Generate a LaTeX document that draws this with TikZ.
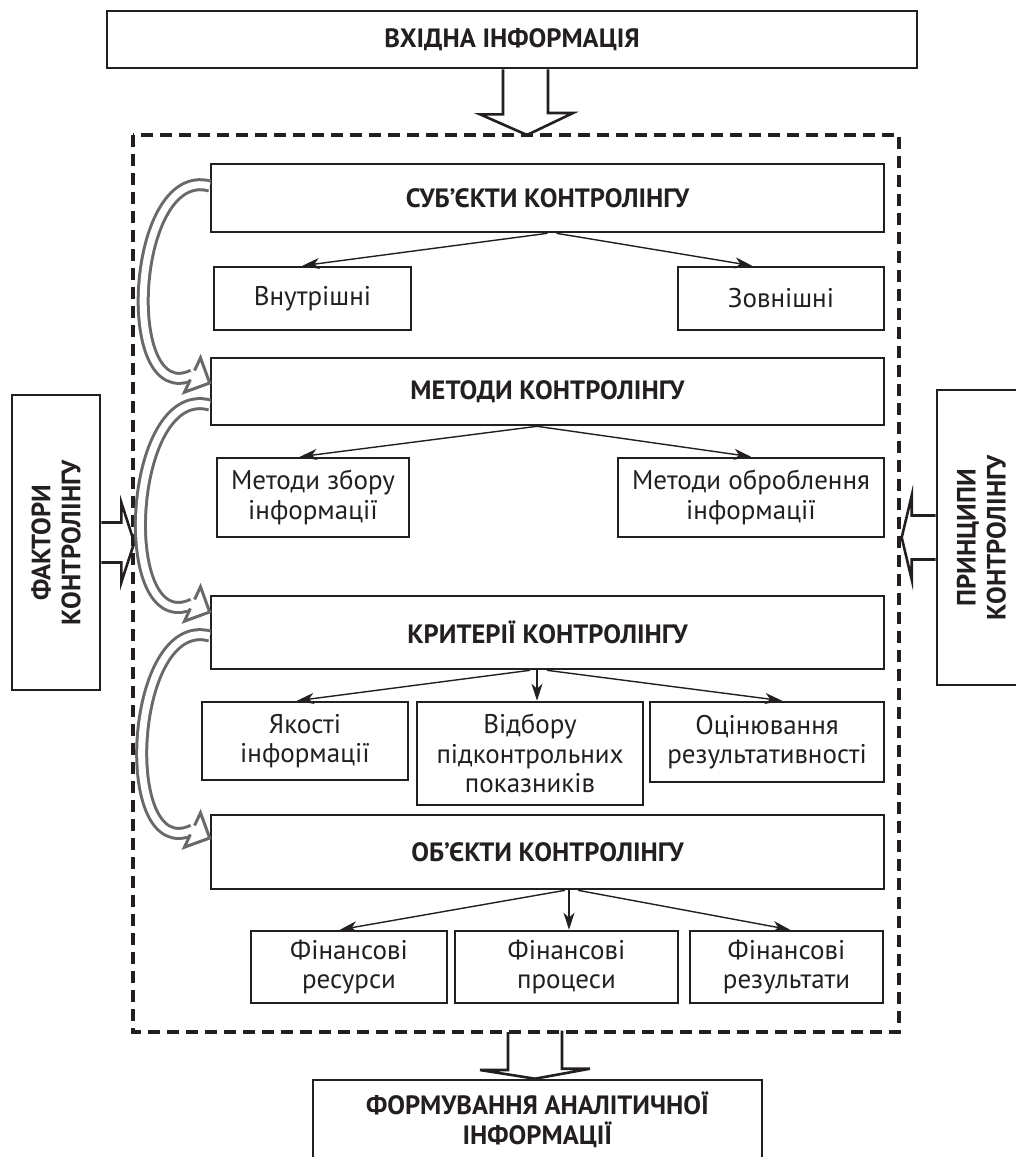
\documentclass[tikz,border=0pt]{standalone}
\usepackage{fontspec}
\setmainfont{PT Sans}
\usetikzlibrary{arrows.meta,calc}
\definecolor{ink}{RGB}{35,31,32}
\definecolor{curvgray}{RGB}{105,105,105}
\tikzset{
  box/.style={draw=ink, text=ink, line width=2.6pt, inner sep=2pt, align=center,
    font=\fontsize{27}{29.5}\selectfont},
  headbox/.style={box, font=\fontsize{26.5}{30}\selectfont\bfseries},
  conn/.style={draw=ink, line width=1.4pt, -{Stealth[length=17pt,width=11pt,inset=5pt]}},
  blk/.style={draw=ink, line width=2.6pt, line join=miter},
  curv/.style={draw=curvgray, double=white, double distance=7pt, line width=3pt},
  curvhead/.style={draw=curvgray, line width=3pt, line join=miter, preaction={fill=white}},
  dashframe/.style={draw=ink, line width=3.5pt, dash pattern=on 12pt off 7pt}
}
\begin{document}
\begin{tikzpicture}[x=1pt,y=-1pt]
\clip (0,0) rectangle (1016,1157);
\draw[dashframe] (133,135) rectangle (899,1032);
% main column
\node[headbox, minimum width=810, minimum height=57] (input) at (512,39.5) {ВХІДНА ІНФОРМАЦІЯ};
\node[headbox, minimum width=673, minimum height=68] (subj) at (547.5,198) {СУБ’ЄКТИ КОНТРОЛІНГУ};
\node[box, minimum width=197, minimum height=63] (inner) at (312.5,298.5) {Внутрішні};
\node[box, minimum width=206, minimum height=63] (outer) at (781,298.5) {Зовнішні};
\node[headbox, minimum width=673, minimum height=67] (methods) at (547.5,391.5) {МЕТОДИ КОНТРОЛІНГУ};
\node[box, minimum width=192, minimum height=79] (mcollect) at (313,497.5) {Методи збору\\інформації};
\node[box, minimum width=266, minimum height=79] (mprocess) at (751,497.5) {Методи оброблення\\інформації};
\node[headbox, minimum width=673, minimum height=73] (criteria) at (547.5,632.5) {КРИТЕРІЇ КОНТРОЛІНГУ};
\node[box, minimum width=206, minimum height=78] (quality) at (305,741) {Якості\\інформації};
\node[box, minimum width=226, minimum height=103] (selection) at (530,753.5) {Відбору\\підконтрольних\\показників};
\node[box, minimum width=234, minimum height=80] (evaluation) at (767,742) {Оцінювання\\результативності};
\node[headbox, minimum width=673, minimum height=74] (objects) at (547.5,852) {ОБ’ЄКТИ КОНТРОЛІНГУ};
\node[box, minimum width=196, minimum height=72] (fres) at (349,967) {Фінансові\\ресурси};
\node[box, minimum width=223, minimum height=72] (fproc) at (566.5,967) {Фінансові\\процеси};
\node[box, minimum width=193, minimum height=72] (fresult) at (786.5,967) {Фінансові\\результати};
\node[headbox, minimum width=449, minimum height=80] (output) at (537.5,1120) {ФОРМУВАННЯ АНАЛІТИЧНОЇ\\ІНФОРМАЦІЇ};
% side boxes
\node[headbox, rotate=90, minimum width=295, minimum height=88] (factors) at (56,542.5) {ФАКТОРИ\\КОНТРОЛІНГУ};
\node[headbox, rotate=90, minimum width=295, minimum height=89] (principles) at (981.5,537.5) {ПРИНЦИПИ\\КОНТРОЛІНГУ};
% thin connectors
\draw[conn] (subj.south) -- ([xshift=-10pt]inner.north);
\draw[conn] ([xshift=9pt]subj.south) -- ([xshift=-29pt]outer.north);
\draw[conn] ([xshift=-10.5pt]methods.south) -- ([xshift=-13pt]mcollect.north);
\draw[conn] ([xshift=-10.5pt]methods.south) -- (mprocess.north);
\draw[conn] ([xshift=-17.5pt]criteria.south) -- ([xshift=-8pt]quality.north);
\draw[conn] ([xshift=-10.5pt]criteria.south) -- ([xshift=7pt]selection.north);
\draw[conn] ([xshift=-0.5pt]criteria.south) -- ([xshift=15pt]evaluation.north);
\draw[conn] ([xshift=17.5pt]objects.south) -- ([xshift=-9pt]fres.north);
\draw[conn] ([xshift=21.5pt]objects.south) -- ([xshift=2.5pt]fproc.north);
\draw[conn] ([xshift=30.5pt]objects.south) -- ([xshift=3.5pt]fresult.north);
% block arrows
\coordinate (intip) at (527,135);
\coordinate (outtip) at ([xshift=-2.5pt]output.north);
\draw[blk] ([xshift=-9pt]input.south) -- ++(0,45) -- ++(-23,0) -- (intip) -- ++(46,-22) -- ++(-25,0) -- ([xshift=36pt]input.south);
\draw[blk] (508,1032) -- ++(0,38) -- ++(-28,0) -- (outtip) -- ++(55,-10) -- ++(-28,0) -- ++(0,-38);
\draw[blk] ([yshift=20pt]factors.south) -- ++(20,0) -- ++(0,-20) -- ++(13,40) -- ++(-13,40) -- ++(0,-20) -- ++(-20,0);
\draw[blk] ([yshift=22pt]principles.north) -- ++(-24,0) -- ++(0,-20) -- ++(-10,42) -- ++(10,42) -- ++(0,-20) -- ++(24,0);
% curved arrows on the left
\coordinate (p1) at ([yshift=8.5pt]methods.west);
\coordinate (p2) at ([yshift=20.5pt]criteria.west);
\coordinate (p3) at ([yshift=14pt]objects.west);
\draw[curv] ([yshift=12pt]subj.west) to[out=165,in=205,looseness=1.1] ($(p1)+(-17.2,-8)$);
\draw[curvhead, shift={(p1)}, rotate=-25] (-19,5) -- (-19,19) -- (0,0) -- (-19,-19) -- (-19,-5);
\draw[curv] ([yshift=-13.5pt]methods.west) to[out=165,in=205,looseness=1.1] ($(p2)+(-17.2,-8)$);
\draw[curvhead, shift={(p2)}, rotate=-25] (-19,5) -- (-19,19) -- (0,0) -- (-19,-19) -- (-19,-5);
\draw[curv] ([yshift=-3.5pt]criteria.west) to[out=165,in=205,looseness=1.1] ($(p3)+(-17.2,-8)$);
\draw[curvhead, shift={(p3)}, rotate=-25] (-19,5) -- (-19,19) -- (0,0) -- (-19,-19) -- (-19,-5);
\end{tikzpicture}
\end{document}
